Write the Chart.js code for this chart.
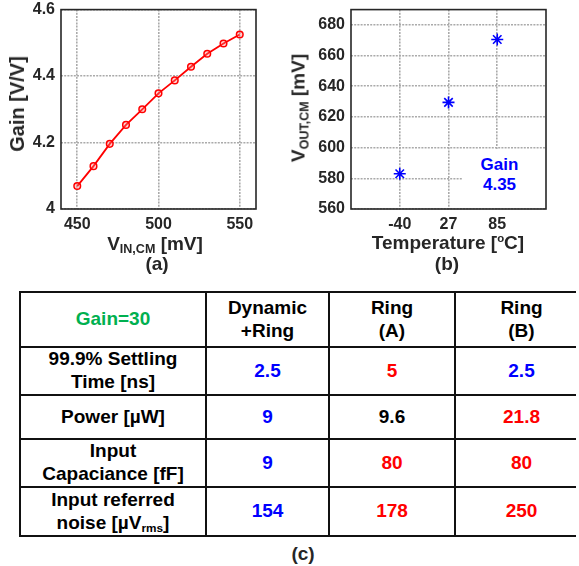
<!DOCTYPE html>
<html lang="en">
<head>
  <meta charset="UTF-8">
  <title>Gain vs VIN,CM, VOUT,CM vs temperature, comparison</title>
  <script src="https://cdn.jsdelivr.net/npm/chart.js"></script>
  <style>
    html, body {
      margin: 0;
      background: #fff;
      overflow: hidden;
      font-family: 'Liberation Sans', Arial, sans-serif;
    }

    #page {
      position: relative;
      width: 579px;
      height: 566px;
      overflow: hidden;
    }

    /* chart.js keeps ~15.6px above the plot area, pull the canvases up a bit */
    canvas {
      position: absolute;
      top: -6px;
    }

    .lbl {
      position: absolute;
      transform: translate(-50%, -50%);
      white-space: nowrap;
      font-weight: bold;
      color: #262626;
      line-height: 1;
      font-size: 19px;
    }

    .lbl.rot {
      transform: translate(-50%, -50%) rotate(-90deg);
    }

    .lbl sub {
      font-size: 0.66em;
      vertical-align: -0.3em;
      line-height: 0;
    }

    .lbl sup {
      font-size: 0.6em;
      vertical-align: 0.6em;
      line-height: 0;
    }

    #gainNote {
      position: absolute;
      left: 462px;
      top: 149px;
      width: 83px;
      height: 58px;
      background: #fff;
      color: #0000ff;
      font-weight: bold;
      font-size: 17px;
      line-height: 20px;
      text-align: center;
      box-sizing: border-box;
      padding-top: 6px;
      padding-right: 8px;
    }

    /* the table runs past the right edge of the picture */
    #tblWrap {
      position: absolute;
      left: 19px;
      top: 291px;
      width: 557px;
      height: 250px;
      overflow: hidden;
    }

    table {
      border-collapse: collapse;
      table-layout: fixed;
      font-weight: bold;
      font-size: 19px;
      line-height: 1.2;
      color: #000;
    }

    td {
      border: 2px solid #111;
      text-align: center;
      vertical-align: middle;
      padding: 0;
    }

    td:last-child {
      border-right: none;
    }

    td sub {
      font-size: 0.62em;
      vertical-align: -0.25em;
      line-height: 0;
    }

    .b { color: #0000ff; }
    .r { color: #ff0000; }
    .k { color: #000; }
    .g { color: #00b050; }
  </style>
</head>
<body>
<div id="page">
  <canvas id="gainChart" width="290" height="241" style="left:0"></canvas>
  <canvas id="voutChart" width="290" height="241" style="left:290px"></canvas>

  <div class="lbl rot" style="left:17px; top:104px; font-size:20px">Gain [V/V]</div>
  <div class="lbl" style="left:155px; top:243px">V<sub>IN,CM</sub> [mV]</div>
  <div class="lbl" style="left:157px; top:263px">(a)</div>

  <div class="lbl rot" style="left:298px; top:108px">V<sub>OUT,CM</sub> [mV]</div>
  <div class="lbl" style="left:448px; top:242px">Temperature [<sup>o</sup>C]</div>
  <div class="lbl" style="left:447px; top:263px">(b)</div>

  <div id="gainNote">Gain<br>4.35</div>

  <div id="tblWrap"><table id="cmpTable"></table></div>
  <div class="lbl" style="left:303px; top:553px">(c)</div>
</div>

<script>
  // (a) gain vs input common mode
  const vinCm = [450, 460, 470, 480, 490, 500, 510, 520, 530, 540, 550];
  const gainVals = [4.069, 4.129, 4.196, 4.253, 4.300, 4.348, 4.387, 4.428, 4.467, 4.498, 4.525];
  const gainXTicks = [450, 500, 550];
  const gainYTicks = [4, 4.2, 4.4, 4.6];

  // (b) output common mode vs temperature
  const tempLabels = ['-40', '27', '85'];
  const voutCm = [583, 629.5, 670.5];
  const voutYTicks = [560, 580, 600, 620, 640, 660, 680];

  // (c) table
  const cornerHead = 'Gain=30';
  const colHeads = ['Dynamic<br>+Ring', 'Ring<br>(A)', 'Ring<br>(B)'];
  const rowHeads = ['99.9% Settling<br>Time [ns]', 'Power [µW]', 'Input<br>Capaciance [fF]', 'Input referred<br>noise [µV<sub>rms</sub>]'];
  const tableVals = [
    ['2.5', '5', '2.5'],
    ['9', '9.6', '21.8'],
    ['9', '80', '80'],
    ['154', '178', '250']
  ];
  const tableColors = [
    ['b', 'r', 'b'],
    ['b', 'k', 'r'],
    ['b', 'r', 'r'],
    ['b', 'r', 'r']
  ];

  const tickFont = { family: "'Liberation Sans', Arial, sans-serif", size: 16, weight: 'bold' };
  const gridOpts = { color: '#aaaaaa', lineWidth: 1.6, drawTicks: false };
  const borderOpts = { display: false, dash: [2, 1.2] };

  // MATLAB-like box round the plot area
  const boxPlugin = {
    id: 'box',
    afterDraw(chart) {
      const { ctx, chartArea: a } = chart;
      ctx.save();
      ctx.strokeStyle = '#262626';
      ctx.lineWidth = 1.6;
      ctx.strokeRect(a.left, a.top, a.right - a.left, a.bottom - a.top);
      ctx.restore();
    }
  };

  function axisX(ticks, min, max, cb) {
    return {
      type: 'linear', min: min, max: max,
      afterBuildTicks: s => { s.ticks = ticks.map(v => ({ value: v })); },
      afterFit: s => { s.height = 26; },
      grid: gridOpts, border: borderOpts,
      ticks: { font: tickFont, color: '#262626', padding: 6, maxRotation: 0, callback: cb }
    };
  }

  function axisY(ticks, min, max) {
    return {
      type: 'linear', min: min, max: max,
      afterBuildTicks: s => { s.ticks = ticks.map(v => ({ value: v })); },
      afterFit: s => { s.width = 61; },
      grid: gridOpts, border: borderOpts,
      ticks: { font: tickFont, color: '#262626', padding: 6, callback: v => String(Math.round(v * 10) / 10) }
    };
  }

  const baseOpts = {
    responsive: false,
    animation: false,
    events: [],
    layout: { padding: { top: 4, right: 34, bottom: 0, left: 0 } },
    plugins: { legend: { display: false }, tooltip: { enabled: false } }
  };

  new Chart(document.getElementById('gainChart'), {
    type: 'scatter',
    data: {
      datasets: [{
        data: vinCm.map((v, i) => ({ x: v, y: gainVals[i] })),
        showLine: true,
        borderColor: '#ff0000',
        borderWidth: 1.8,
        pointRadius: 3.3,
        pointBorderWidth: 1.5,
        pointBackgroundColor: 'rgba(255,120,120,0.35)',
        pointBorderColor: '#ff0000'
      }]
    },
    options: Object.assign({}, baseOpts, {
      scales: {
        x: axisX(gainXTicks, 440, 560),
        y: axisY(gainYTicks, 4, 4.6)
      }
    }),
    plugins: [boxPlugin]
  });

  new Chart(document.getElementById('voutChart'), {
    type: 'scatter',
    data: {
      datasets: [{
        data: voutCm.map((v, i) => ({ x: i + 1, y: v })),
        pointStyle: 'star',
        pointRadius: 6,
        pointBorderWidth: 1.6,
        pointBorderColor: '#0000ff',
        pointBackgroundColor: '#0000ff'
      }]
    },
    options: Object.assign({}, baseOpts, {
      scales: {
        x: axisX([1, 2, 3], 0, 4, v => tempLabels[v - 1] || ''),
        y: axisY(voutYTicks, 560, 690)
      }
    }),
    plugins: [boxPlugin]
  });

  // table
  const colWidths = [186, 123, 126, 132];
  const rowHeights = [55, 48, 44, 48, 49];
  const tbl = document.getElementById('cmpTable');
  tbl.style.width = colWidths.reduce((s, w) => s + w, 0) + 'px';
  let html = '<colgroup>' + colWidths.map(w => `<col style="width:${w}px">`).join('') + '</colgroup>';
  html += `<tr style="height:${rowHeights[0]}px"><td class="g">${cornerHead}</td>` +
    colHeads.map(h => `<td>${h}</td>`).join('') + '</tr>';
  rowHeads.forEach((r, i) => {
    html += `<tr style="height:${rowHeights[i + 1]}px"><td>${r}</td>` +
      tableVals[i].map((v, j) => `<td class="${tableColors[i][j]}">${v}</td>`).join('') + '</tr>';
  });
  tbl.innerHTML = html;
</script>
</body>
</html>
